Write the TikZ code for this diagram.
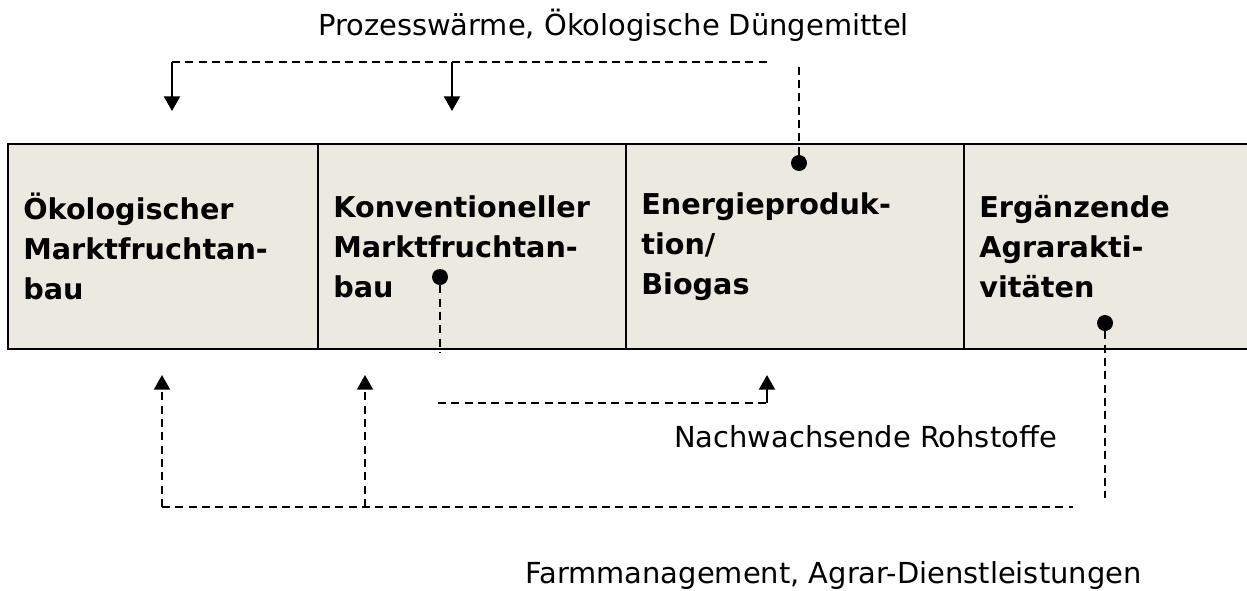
\documentclass[tikz,border=0pt]{standalone}
\usepackage{fontspec}
\setmainfont{DejaVu Sans}
\usepackage{tikz}
\usetikzlibrary{
  positioning,
  arrows.meta
}
\definecolor{bandfill}{RGB}{236,234,224}
\tikzset{
  sector/.style={
    draw,
    line width=1.5pt,
    fill=bandfill,
    font=\fontsize{21.5}{30}\selectfont\bfseries,
    align=left,
    inner xsep=11.5pt,
    inner ysep=0pt,
    outer sep=0pt,
    minimum height=153.75pt,
  },
  joint/.style={
    circle,
    fill=black,
    inner sep=0pt,
    minimum size=12pt,
  },
  note/.style={
    font=\fontsize{21.7}{26}\selectfont,
    anchor=base,
  },
  link/.style={
    line width=1.4pt,
    dash pattern=on 6pt off 4pt,
  },
  drop/.style={
    line width=1.6pt,
    -{Triangle[length=11pt,width=12pt]},
  },
  rise/.style={
    link,
    -{Triangle[length=11pt,width=12pt]},
  },
}

\begin{document}
\begin{tikzpicture}[x=0.75pt,y=-0.75pt]
		\useasboundingbox (0,0) rectangle (1247,590);

		% sectors
		\node[sector,text width=209.5pt,anchor=north west] (oeko) at (8,144) {Ökologischer\\Marktfruchtan-\\bau};
		\node[sector,text width=208pt,right=0pt of oeko] (konv) {Konventioneller\\Marktfruchtan-\\bau};
		\node[sector,text width=230.5pt,right=0pt of konv] (ener) {Energieproduk-\\tion/\\Biogas};
		\node[sector,text width=215pt,right=0pt of ener] (ergz) {Ergänzende\\Agrarakti-\\vitäten};

		% dots and turning points
		\node[joint] (edot) at (799,163) {};
		\node[joint] (kdot) at (440,277) {};
		\node[joint] (adot) at (1105,323) {};

		\coordinate (top1) at (172,62);
		\coordinate (top2) at (452,62);
		\coordinate (top3) at (768,62);
		\coordinate (etop) at (799,64);
		\coordinate (in1) at (172,111);
		\coordinate (in2) at (452,111);

		\coordinate (kend) at (440,352);
		\coordinate (raw1) at (438,403);
		\coordinate (raw2) at (767,403);
		\coordinate (rawin) at (767,375);

		\coordinate (aend) at (1105,498);
		\coordinate (low1) at (162,507);
		\coordinate (low2) at (365,507);
		\coordinate (low3) at (1073,507);
		\coordinate (up1) at (162,375);
		\coordinate (up2) at (365,375);

		% labels
		\node[note] (waerme) at (613.5,35) {Prozesswärme, Ökologische Düngemittel};
		\node[note] (rohst) at (865.5,447) {Nachwachsende Rohstoffe};
		\node[note] (farm) at (833.5,583) {Farmmanagement, Agrar-Dienstleistungen};

		% edges
		\draw[link] (edot) -- (etop);
		\draw[link] (top1) -- (top3);
		\draw[drop] (top1) -- (in1);
		\draw[drop] (top2) -- (in2);

		\draw[link] (kdot) -- (kend);
		\draw[link] (raw1) -- (raw2);
		\draw[drop] (raw2) -- (rawin);

		\draw[link] (adot) -- (aend);
		\draw[link] (low1) -- (low3);
		\draw[rise] (low1) -- (up1);
		\draw[rise] (low2) -- (up2);

	\end{tikzpicture}
\end{document}
